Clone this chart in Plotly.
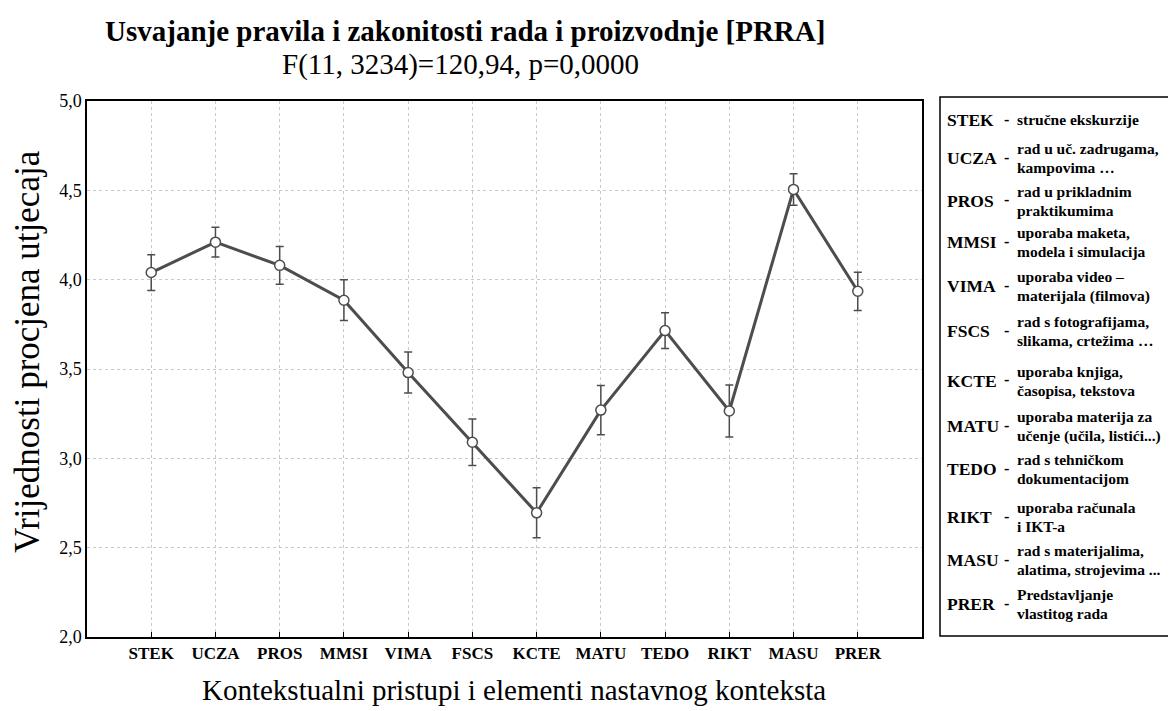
import plotly.graph_objects as go

categories = ["STEK", "UCZA", "PROS", "MMSI", "VIMA", "FSCS", "KCTE", "MATU", "TEDO", "RIKT", "MASU", "PRER"]
means = [4.04, 4.21, 4.08, 3.885, 3.48, 3.09, 2.695, 3.27, 3.715, 3.265, 4.505, 3.935]
err = [0.10, 0.083, 0.105, 0.114, 0.115, 0.13, 0.14, 0.138, 0.10, 0.145, 0.088, 0.107]

y_tick_vals = [2.0, 2.5, 3.0, 3.5, 4.0, 4.5, 5.0]
y_tick_text = ["2,0", "2,5", "3,0", "3,5", "4,0", "4,5", "5,0"]

legend_desc = [
    ["stručne ekskurzije"],
    ["rad u uč. zadrugama,", "kampovima …"],
    ["rad u prikladnim", "praktikumima"],
    ["uporaba maketa,", "modela i simulacija"],
    ["uporaba video –", "materijala (filmova)"],
    ["rad s fotografijama,", "slikama, crtežima …"],
    ["uporaba knjiga,", "časopisa, tekstova"],
    ["uporaba materija za", "učenje (učila, listići...)"],
    ["rad s tehničkom", "dokumentacijom"],
    ["uporaba računala", "i IKT-a"],
    ["rad s materijalima,", "alatima, strojevima ..."],
    ["Predstavljanje", "vlastitog rada"],
]

title = "Usvajanje pravila i zakonitosti rada i proizvodnje [PRRA]"
subtitle = "F(11, 3234)=120,94, p=0,0000"
x_title = "Kontekstualni pristupi i elementi nastavnog konteksta"
y_title = "Vrijednosti procjena utjecaja"

W, H = 1176, 711
O = 8  # page body margin
L, R, T, B = 87, 922, 101, 637
SERIF = "Liberation Serif, Times New Roman, serif"


def px(xp):
    return (xp - L) / (R - L)


def py(yp):
    return (B - yp) / (B - T)


fig = go.Figure()
fig.add_trace(go.Scatter(
    x=list(range(len(categories))), y=means,
    mode="lines+markers",
    line=dict(color="#4d4d4d", width=3),
    marker=dict(symbol="circle", size=10, color="white", line=dict(color="#4d4d4d", width=1.5)),
    error_y=dict(type="data", array=err, visible=True, color="#4d4d4d", thickness=1.5, width=4),
    showlegend=False,
))

fig.update_layout(
    width=W - O, height=H - O,
    margin=dict(l=L - O, r=W - R, t=T - O, b=H - B),
    paper_bgcolor="white", plot_bgcolor="white",
    font=dict(family=SERIF, color="black"),
    xaxis=dict(
        range=[-1, len(categories)],
        tickmode="array",
        tickvals=list(range(len(categories))),
        ticktext=["<b>%s</b>" % c for c in categories],
        tickfont=dict(family=SERIF, size=17, color="black"),
        ticks="inside", ticklen=5, tickcolor="black",
        showgrid=True, gridcolor="#c8c8c8", griddash="dot", gridwidth=1,
        showline=True, linecolor="black", linewidth=1.5, mirror=True,
        zeroline=False,
    ),
    yaxis=dict(
        range=[2.0, 5.0],
        tickmode="array",
        tickvals=y_tick_vals,
        ticktext=y_tick_text,
        tickfont=dict(family=SERIF, size=18, color="black"),
        ticks="",
        showgrid=True, gridcolor="#c8c8c8", griddash="dot", gridwidth=1,
        showline=True, linecolor="black", linewidth=1.5, mirror=True,
        zeroline=False,
    ),
)

# Titles
fig.add_annotation(xref="paper", yref="paper", x=px(465), y=py(31), text="<b>%s</b>" % title,
                   showarrow=False, font=dict(family=SERIF, size=29, color="black"),
                   xanchor="center", yanchor="middle")
fig.add_annotation(xref="paper", yref="paper", x=px(460), y=py(65), text=subtitle,
                   showarrow=False, font=dict(family=SERIF, size=29, color="black"),
                   xanchor="center", yanchor="middle")
fig.add_annotation(xref="paper", yref="paper", x=px(514), y=py(690), text=x_title,
                   showarrow=False, font=dict(family=SERIF, size=29, color="black"),
                   xanchor="center", yanchor="middle")
fig.add_annotation(xref="paper", yref="paper", x=px(27), y=py(352), text=y_title,
                   showarrow=False, font=dict(family=SERIF, size=35, color="black"),
                   textangle=-90, xanchor="center", yanchor="middle")

# Legend box
fig.add_shape(type="rect", xref="paper", yref="paper",
              x0=px(940), x1=px(1174), y0=py(636), y1=py(97),
              line=dict(color="black", width=1.5), fillcolor="white", layer="below")

row_y = [120, 158, 201, 242, 286, 331, 381, 426, 469, 517, 560, 604]
for i, (abbr, desc) in enumerate(zip(categories, legend_desc)):
    fig.add_annotation(xref="paper", yref="paper", x=px(945), y=py(row_y[i]),
                       text="<b>%s</b>" % abbr, showarrow=False,
                       font=dict(family=SERIF, size=17.5, color="black"),
                       xanchor="left", yanchor="middle")
    fig.add_annotation(xref="paper", yref="paper", x=px(1011), y=py(row_y[i] - 1),
                       text="<b>-</b>", showarrow=False,
                       font=dict(family=SERIF, size=16, color="black"),
                       xanchor="right", yanchor="middle")
    n = len(desc)
    for j, line in enumerate(desc):
        yy = row_y[i] + (j - (n - 1) / 2) * 19
        fig.add_annotation(xref="paper", yref="paper", x=px(1015), y=py(yy),
                           text="<b>%s</b>" % line, showarrow=False, align="left",
                           font=dict(family=SERIF, size=15.5, color="black"),
                           xanchor="left", yanchor="middle")

fig.write_html("out.html")
